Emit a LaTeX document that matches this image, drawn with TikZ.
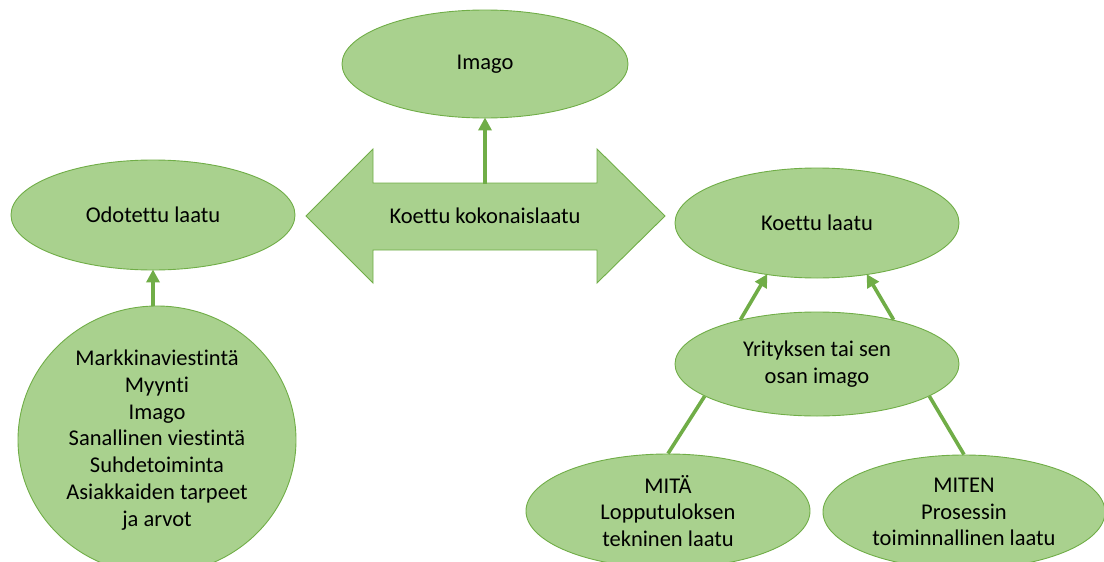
\documentclass[tikz,border=0pt]{standalone}
\usepackage{fontspec}
\setmainfont[Ligatures=NoCommon]{Carlito}
\usetikzlibrary{shapes.geometric,arrows.meta}
\definecolor{gfill}{HTML}{A9D18E}
\definecolor{gline}{HTML}{70AD47}
\tikzset{
  oval/.style={ellipse, draw=gline, line width=0.9pt, fill=gfill, inner sep=0pt, align=center, text=black,
    font=\fontsize{22.5}{26.8}\selectfont},
  arr/.style={draw=gline, line width=3.6pt, -{Triangle[length=13pt,width=13pt]}, shorten >=-1pt},
  plain/.style={draw=gline, line width=3.6pt},
  dbl/.style={draw=gline, line width=0.9pt, fill=gfill}
}
\begin{document}
\begin{tikzpicture}[x=1pt,y=-1pt]
\useasboundingbox (0,0) rectangle (1104,562);
\clip (0,0) rectangle (1104,562);
% double arrow
\draw[dbl] (306,216) -- (373,149) -- (373,183) -- (597,183) -- (597,149) -- (665,216)
  -- (597,283) -- (597,250) -- (373,250) -- (373,283) -- cycle;
\node[font=\fontsize{22.5}{26.8}\selectfont] (ka) at (485,216) {Koettu kokonaislaatu};
\coordinate (kaTop) at (485,184);
% ellipses
\node[oval, minimum width=286pt, minimum height=108pt] (imago) at (485,64) {Imago};
\node[oval, minimum width=284pt, minimum height=110pt] (od) at (153,215) {Odotettu laatu};
\node[oval, minimum width=284pt, minimum height=110pt] (kl) at (817,223) {Koettu laatu};
\node[oval, minimum width=278pt, minimum height=268pt] (bc) at (157,440)
  {Markkinaviestintä\\Myynti\\Imago\\Sanallinen viestintä\\Suhdetoiminta\\Asiakkaiden tarpeet\\ja arvot};
\node[oval, minimum width=284pt, minimum height=104pt] (yr) at (817,364) {Yrityksen tai sen\\osan imago};
\node[oval, minimum width=284pt, minimum height=114pt] (mita) at (668,511) {MITÄ\\Lopputuloksen\\tekninen laatu};
\node[oval, minimum width=282pt, minimum height=114pt] (miten) at (964,512) {MITEN\\Prosessin\\toiminnallinen laatu};
% connectors
\draw[arr] (kaTop) -- (imago.south);
\draw[arr] (od.south |- bc.north) -- (od.south);
\draw[arr] (yr.150) -- (kl.226);
\draw[arr] (yr.30) -- (kl.314);
\draw[plain] (yr.196) -- (mita.north);
\draw[plain] (yr.-16) -- (miten.north);
\end{tikzpicture}
\end{document}
